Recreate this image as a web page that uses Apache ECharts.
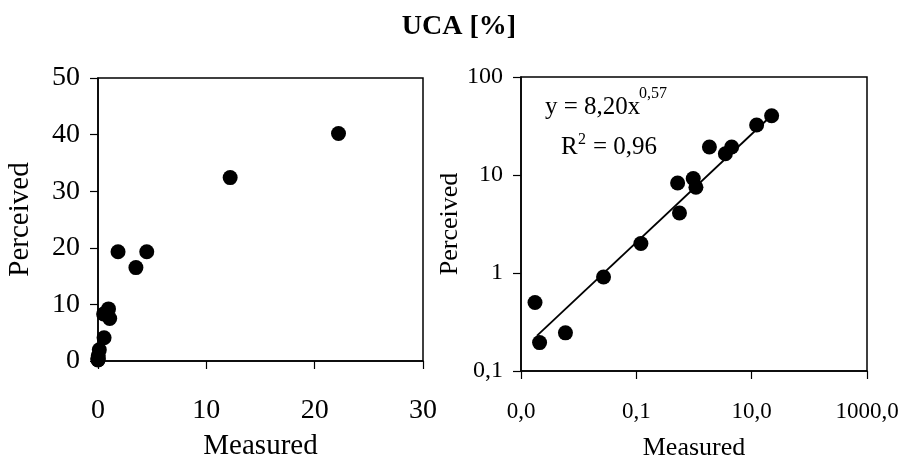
<!DOCTYPE html>
<html><head><meta charset="utf-8">
<script src="https://cdn.jsdelivr.net/npm/echarts@6/dist/echarts.min.js"></script>
<style>html,body{margin:0;padding:0;background:#fff}#c{width:904px;height:466px}</style>
</head><body><div id="c"></div>
<script>
// Data
const measured  = [0.00175, 0.0021, 0.0059, 0.027, 0.12, 0.52, 0.56, 0.97, 1.08, 1.85, 3.5, 4.5, 12.2, 22.2];
const perceived = [0.5, 0.195, 0.245, 0.91, 2.0, 8.3, 4.1, 9.2, 7.5, 19.3, 16.5, 19.3, 32.4, 40.2];
// Power-law trend line end points (y = 8,20x^0,57)
const trendMeasured  = [0.0019, 22.3];
const trendPerceived = [0.23, 40.7];
// Tick values and labels
const linXTicks  = [0, 10, 20, 30];
const linXLabels = ['0', '10', '20', '30'];
const linYTicks  = [0, 10, 20, 30, 40, 50];
const linYLabels = ['0', '10', '20', '30', '40', '50'];
const logXTicks  = [0.001, 0.1, 10, 1000];
const logXLabels = ['0,0', '0,1', '10,0', '1000,0'];
const logYTicks  = [0.1, 1, 10, 100];
const logYLabels = ['0,1', '1', '10', '100'];

const FONT = '"Liberation Serif", "Times New Roman", serif';

function labeler(ticks, labels) {
  return function (v) {
    for (let i = 0; i < ticks.length; i++) {
      const t = ticks[i];
      if (t === 0 ? Math.abs(v) < 1e-9 : Math.abs(v / t - 1) < 1e-6) return labels[i];
    }
    return '';
  };
}

const pts = measured.map((m, i) => [m, perceived[i]]);
const trend = trendMeasured.map((m, i) => [m, trendPerceived[i]]);

const axisLine = { show: true, lineStyle: { color: '#000', width: 1.5 } };
const tick = { show: true, inside: false, length: 8, lineStyle: { color: '#000', width: 1.2 } };

const chart = echarts.init(document.getElementById('c'), null, { renderer: 'canvas' });
chart.setOption({
  animation: false,
  backgroundColor: '#fff',
  title: {
    text: 'UCA [%]', left: 454, top: 8, textAlign: 'center',
    textStyle: { fontFamily: FONT, fontSize: 28, fontWeight: 'bold', color: '#000' }
  },
  grid: [
    { left: 98, top: 78, width: 325, height: 286, show: true, borderColor: '#000', borderWidth: 1.5, backgroundColor: 'transparent' },
    { left: 521, top: 77, width: 346, height: 295, show: true, borderColor: '#000', borderWidth: 1.5, backgroundColor: 'transparent' }
  ],
  xAxis: [
    {
      gridIndex: 0, type: 'value', min: 0, max: 30, interval: 10,
      name: 'Measured', nameLocation: 'middle', nameGap: 71,
      nameTextStyle: { fontFamily: FONT, fontSize: 29, color: '#000' },
      axisLine: axisLine, axisTick: tick, splitLine: { show: false },
      axisLabel: { margin: 36, fontFamily: FONT, fontSize: 28, color: '#000', formatter: labeler(linXTicks, linXLabels) }
    },
    {
      gridIndex: 1, type: 'log', logBase: 10, min: 0.001, max: 1000,
      name: 'Measured', nameLocation: 'middle', nameGap: 64,
      nameTextStyle: { fontFamily: FONT, fontSize: 26, color: '#000' },
      axisLine: axisLine,
      axisTick: Object.assign({ customValues: logXTicks }, tick),
      minorTick: { show: false }, splitLine: { show: false },
      axisLabel: { customValues: logXTicks, margin: 29, fontFamily: FONT, fontSize: 23, color: '#000', formatter: labeler(logXTicks, logXLabels) }
    }
  ],
  yAxis: [
    {
      gridIndex: 0, type: 'value', min: 0, max: 50, interval: 10,
      name: 'Perceived', nameLocation: 'middle', nameGap: 63,
      nameTextStyle: { fontFamily: FONT, fontSize: 29, color: '#000' },
      axisLine: axisLine, axisTick: tick, splitLine: { show: false },
      axisLabel: { margin: 18, fontFamily: FONT, fontSize: 28, color: '#000', formatter: labeler(linYTicks, linYLabels) }
    },
    {
      gridIndex: 1, type: 'log', logBase: 10, min: 0.1, max: 100,
      name: 'Perceived', nameLocation: 'middle', nameGap: 58,
      nameTextStyle: { fontFamily: FONT, fontSize: 26, color: '#000' },
      axisLine: axisLine,
      axisTick: Object.assign({ customValues: logYTicks }, tick),
      minorTick: { show: false }, splitLine: { show: false },
      axisLabel: { customValues: logYTicks, margin: 18, fontFamily: FONT, fontSize: 24, color: '#000', formatter: labeler(logYTicks, logYLabels) }
    }
  ],
  series: [
    {
      type: 'scatter', xAxisIndex: 0, yAxisIndex: 0, data: pts,
      symbol: 'circle', symbolSize: 15, itemStyle: { color: '#000', opacity: 1 }, clip: false, z: 3
    },
    {
      type: 'line', xAxisIndex: 1, yAxisIndex: 1, data: trend,
      showSymbol: false, symbol: 'none', lineStyle: { color: '#000', width: 1.8 }, z: 2
    },
    {
      type: 'scatter', xAxisIndex: 1, yAxisIndex: 1, data: pts,
      symbol: 'circle', symbolSize: 15, itemStyle: { color: '#000', opacity: 1 }, clip: false, z: 3
    }
  ],
  graphic: [
    { type: 'text', x: 545, y: 107, style: { text: 'y = 8,20x', font: '25px ' + FONT, fill: '#000', align: 'left', verticalAlign: 'middle' } },
    { type: 'text', x: 639, y: 94, style: { text: '0,57', font: '16px ' + FONT, fill: '#000', align: 'left', verticalAlign: 'middle' } },
    { type: 'text', x: 561, y: 147, style: { text: 'R', font: '25px ' + FONT, fill: '#000', align: 'left', verticalAlign: 'middle' } },
    { type: 'text', x: 578, y: 140, style: { text: '2', font: '16px ' + FONT, fill: '#000', align: 'left', verticalAlign: 'middle' } },
    { type: 'text', x: 593, y: 147, style: { text: '= 0,96', font: '25px ' + FONT, fill: '#000', align: 'left', verticalAlign: 'middle' } }
  ]
});
</script>
</body></html>
